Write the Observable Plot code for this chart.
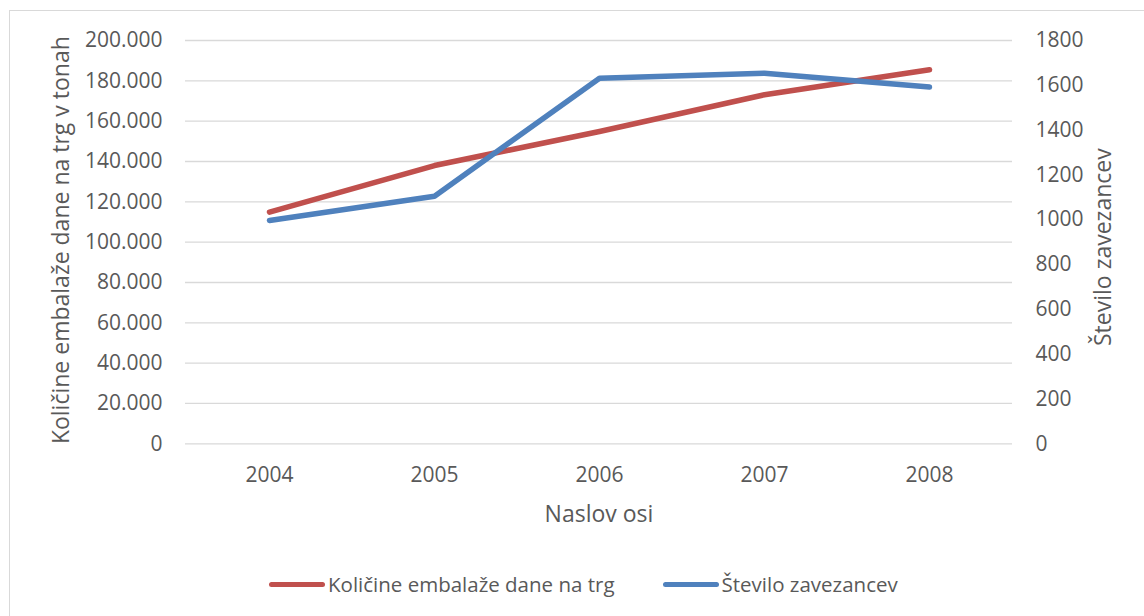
<!DOCTYPE html>
<html>
<head>
<meta charset="utf-8">
<script src="https://cdn.jsdelivr.net/npm/d3@7"></script>
<script src="https://cdn.jsdelivr.net/npm/@observablehq/plot@0.6"></script>
<style>
  html, body { margin: 0; padding: 0; background: #fff; }
  #wrap { position: relative; width: 1144px; height: 616px; overflow: hidden; font-family: "Open Sans", sans-serif; color: #595959; }
  #frameTop { position: absolute; left: 10px; top: 10px; width: 1134px; height: 0; border-top: 1.5px solid #D9D9D9; }
  #frameLeft { position: absolute; left: 9px; top: 10px; width: 0; height: 606px; border-left: 1.5px solid #D9D9D9; }
  #chart { position: absolute; left: 0; top: 0; }
  #legend { position: absolute; left: 269px; top: 570px; display: flex; align-items: center; font-size: 20.5px; color: #595959; white-space: nowrap; }
  .item { display: flex; align-items: center; }
  .sw { width: 56px; height: 5px; border-radius: 3px; margin-right: 3px; }
</style>
</head>
<body>
<div id="wrap">
  <div id="frameTop"></div>
  <div id="frameLeft"></div>
  <div id="chart"></div>
  <div id="legend"></div>
</div>
<script>
const years = ["2004", "2005", "2006", "2007", "2008"];
const kolicine = [114900, 138000, 154900, 173100, 185500];
const zavezanci = [997, 1105, 1632, 1654, 1592];
const leftTicks = [0, 20000, 40000, 60000, 80000, 100000, 120000, 140000, 160000, 180000, 200000];
const rightTicks = [0, 200, 400, 600, 800, 1000, 1200, 1400, 1600, 1800];
const seriesNames = ["Količine embalaže dane na trg", "Število zavezancev"];
const colors = ["#C0504D", "#4F81BD"];
const leftTitle = "Količine embalaže dane na trg v tonah";
const rightTitle = "Število zavezancev";
const xTitle = "Naslov osi";

const leftMax = 200000, rightMax = 1800;
const k = leftMax / rightMax;

const fmt = d3.formatLocale({decimal: ",", thousands: ".", grouping: [3], currency: ["", ""]}).format(",");

const redData = years.map((y, i) => ({year: y, value: kolicine[i]}));
const blueData = years.map((y, i) => ({year: y, value: zavezanci[i]}));

const chart = Plot.plot({
  width: 1144,
  height: 545,
  marginTop: 40,
  marginBottom: 101.7,
  marginLeft: 185,
  marginRight: 132,
  style: {fontFamily: "'Open Sans', sans-serif", fontSize: "21px", color: "#595959", background: "transparent", overflow: "visible"},
  x: {type: "point", domain: years, padding: 0.5},
  y: {domain: [0, leftMax]},
  marks: [
    Plot.gridY(leftTicks, {stroke: "#D9D9D9", strokeOpacity: 1, strokeWidth: 1.3}),
    Plot.axisY(leftTicks, {anchor: "left", tickSize: 0, tickPadding: 23, tickFormat: fmt, label: null, fontSize: 21}),
    Plot.axisY(rightTicks.map(v => v * k), {anchor: "right", tickSize: 0, tickPadding: 23, tickFormat: d => String(Math.round(d / k)), label: null, fontSize: 21}),
    Plot.axisX({tickSize: 0, tickPadding: 23, label: null, fontSize: 21}),
    Plot.lineY(redData, {x: "year", y: "value", stroke: colors[0], strokeWidth: 5.5, strokeLinecap: "round", strokeLinejoin: "round"}),
    Plot.lineY(blueData, {x: "year", y: d => d.value * k, stroke: colors[1], strokeWidth: 5.5, strokeLinecap: "round", strokeLinejoin: "round"}),
    Plot.text([leftTitle], {frameAnchor: "left", dx: -124, dy: -2, rotate: -90, textAnchor: "middle", lineAnchor: "middle", fontSize: 23, fill: "#595959"}),
    Plot.text([rightTitle], {frameAnchor: "right", dx: 91, dy: 5, rotate: -90, textAnchor: "middle", lineAnchor: "middle", fontSize: 23, fill: "#595959"}),
    Plot.text([xTitle], {frameAnchor: "bottom", dy: 71, textAnchor: "middle", lineAnchor: "middle", fontSize: 23, fill: "#595959"})
  ]
});
document.getElementById("chart").appendChild(chart);

const legend = document.getElementById("legend");
seriesNames.forEach((name, i) => {
  const it = document.createElement("div");
  it.className = "item";
  if (i > 0) it.style.marginLeft = "48px";
  const sw = document.createElement("span");
  sw.className = "sw";
  sw.style.background = colors[i];
  const t = document.createElement("span");
  t.textContent = name;
  it.appendChild(sw);
  it.appendChild(t);
  legend.appendChild(it);
});
</script>
</body>
</html>
